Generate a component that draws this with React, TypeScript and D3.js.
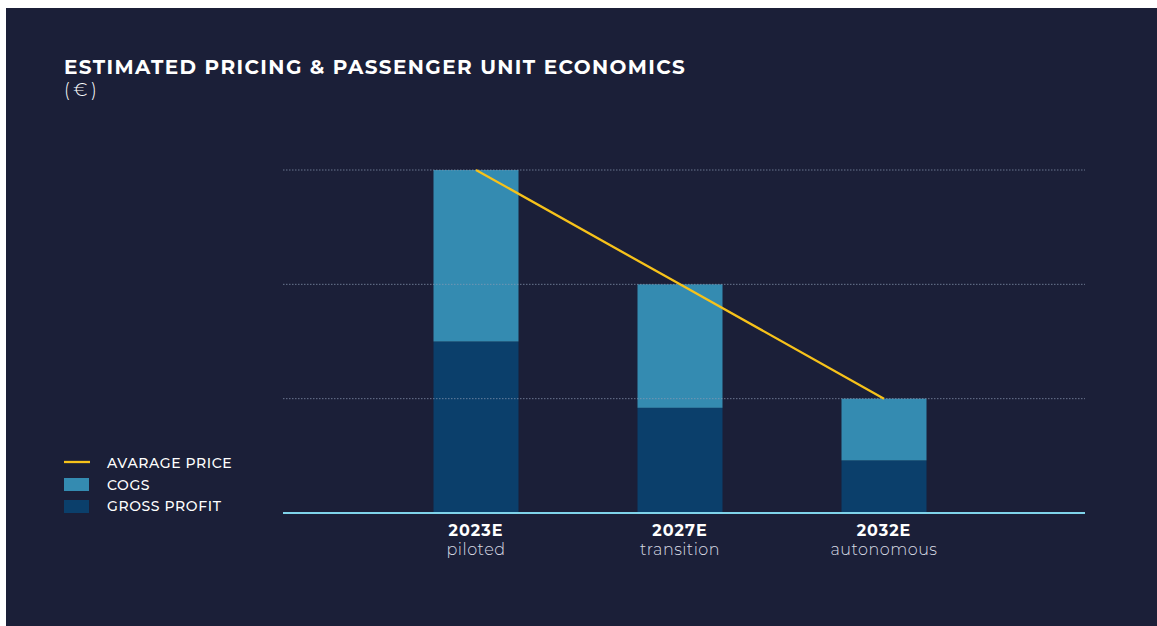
import React from "react";
import * as d3 from "d3";

const categories = ["2023E", "2027E", "2032E"];
const subLabels = ["piloted", "transition", "autonomous"];
const cogs = [15, 10.8, 5.4];
const grossProfit = [15, 9.2, 4.6];
const averagePrice = [30, 20, 10];
const gridTicks = [10, 20, 30];
const legendLabels = ["AVARAGE PRICE", "COGS", "GROSS PROFIT"];

const W = 1157;
const H = 626;

export default function App() {
  const x = d3.scalePoint<string>().domain(categories).range([476, 884]);
  const y = d3.scaleLinear().domain([0, 30]).range([513, 170]);
  const barW = 85;
  const stacked = d3
    .stack<number>()
    .keys(["gp", "cogs"])
    .value((i, k) => (k === "gp" ? grossProfit[i] : cogs[i]))(d3.range(categories.length));
  const colors: Record<string, string> = { gp: "#0b3f6b", cogs: "#348bb1" };
  const line = d3
    .line<number>()
    .x((_, i) => x(categories[i]) as number)
    .y((d) => y(d));
  const font = "Montserrat, 'Open Sans', Lato, sans-serif";

  return (
    <svg width={W} height={H} style={{ position: "absolute", left: 0, top: 0 }}>
      <rect x={6} y={8} width={W - 6} height={H - 8} fill="#1b1f38" />
      <text x={64} y={73.5} fill="#ffffff" fontFamily={font} fontWeight={700} fontSize={20} letterSpacing={1.4}>
        ESTIMATED PRICING &amp; PASSENGER UNIT ECONOMICS
      </text>
      <text x={64} y={96} fill="#ffffff" fontFamily={font} fontWeight={300} fontSize={18} letterSpacing={3.5}>
        (€)
      </text>
      {stacked.map((s) =>
        s.map((d, i) => (
          <rect
            key={s.key + i}
            x={(x(categories[i]) as number) - barW / 2}
            y={y(d[1])}
            width={barW}
            height={y(d[0]) - y(d[1])}
            fill={colors[s.key]}
          />
        ))
      )}
      {gridTicks.map((t) => (
        <line
          key={t}
          x1={283}
          x2={1085}
          y1={y(t)}
          y2={y(t)}
          stroke="#8c9bb5"
          strokeOpacity={0.7}
          strokeWidth={1}
          strokeDasharray="1.5 1.5"
        />
      ))}
      <line x1={283} x2={1085} y1={y(0)} y2={y(0)} stroke="#7fd3ea" strokeWidth={2} />
      <path d={line(averagePrice) || ""} fill="none" stroke="#f7c21a" strokeWidth={2.3} />
      {categories.map((c, i) => (
        <g key={c}>
          <text x={x(c)} y={536} textAnchor="middle" fill="#ffffff" fontFamily={font} fontWeight={700} fontSize={16} letterSpacing={1}>
            {c}
          </text>
          <text x={x(c)} y={555} textAnchor="middle" fill="#d8dbe4" fontFamily={font} fontWeight={300} fontSize={16} letterSpacing={0.5}>
            {subLabels[i]}
          </text>
        </g>
      ))}
      <line x1={64} x2={90} y1={462} y2={462} stroke="#f7c21a" strokeWidth={2.3} />
      <rect x={64} y={478} width={25} height={13} fill={colors.cogs} />
      <rect x={64} y={500} width={25} height={13} fill={colors.gp} />
      {legendLabels.map((t, i) => (
        <text key={t} x={107} y={468 + i * 21.5} fill="#ffffff" fontFamily={font} fontWeight={500} fontSize={14} letterSpacing={0.6}>
          {t}
        </text>
      ))}
    </svg>
  );
}
